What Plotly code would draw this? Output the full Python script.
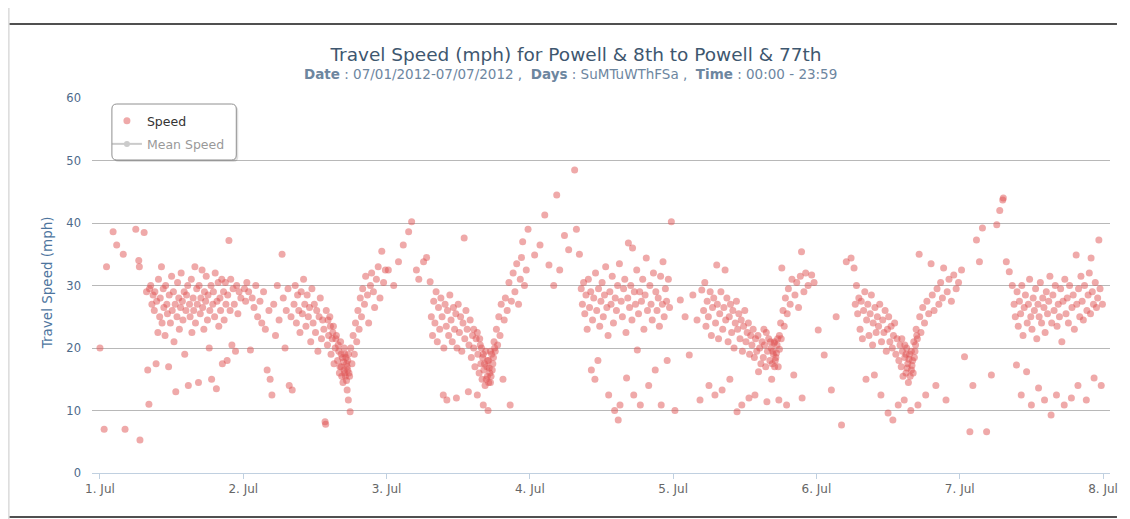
import pandas as pd
import plotly.graph_objects as go

# hours after midnight and speed (mph), one pair of lists per day
day1_hours = [0.0, 0.7, 1.1, 2.2, 2.8, 3.9, 4.2, 6.0, 6.5, 6.6, 6.7, 7.4, 7.8, 8.0, 8.2, 8.3, 8.5,
              8.7, 8.9, 9.1, 9.2, 9.4, 9.5, 9.7, 9.8, 10.0, 10.1, 10.3, 10.4, 10.6, 10.7, 10.9, 11.0,
              11.2, 11.3, 11.5, 11.6, 11.8, 12.0, 12.1, 12.3, 12.4, 12.6, 12.7, 12.9, 13.0, 13.2, 13.3,
              13.5, 13.6, 13.8, 13.9, 14.1, 14.2, 14.4, 14.5, 14.7, 14.8, 15.0, 15.1, 15.3, 15.4, 15.6,
              15.7, 15.9, 16.0, 16.2, 16.3, 16.5, 16.6, 16.8, 16.9, 17.1, 17.2, 17.4, 17.5, 17.7, 17.8,
              18.0, 18.1, 18.3, 18.4, 18.6, 18.7, 18.9, 19.0, 19.2, 19.3, 19.5, 19.6, 19.8, 19.9, 20.1,
              20.2, 20.4, 20.5, 20.7, 20.8, 21.0, 21.1, 21.3, 21.4, 21.6, 21.8, 21.9, 22.1, 22.3, 22.5,
              22.7, 22.9, 23.1, 23.3, 23.6]
day1_speed = [20, 7, 33, 38.6, 36.5, 35, 7, 39, 34, 33, 5.3, 38.5, 29, 16.5, 11, 29.5, 30,
              27, 28.5, 26, 29, 17.5, 27.5, 22.5, 31, 25, 28, 33, 24, 29.5, 26.5, 22, 30,
              27, 25.5, 17, 28.5, 24, 31.5, 26, 29, 21, 27, 13, 25, 30.5, 28, 23,
              26.5, 32, 27.5, 24.5, 29, 19, 26, 28.5, 30, 14, 27, 25, 31, 22.5, 28,
              26, 33, 24, 29.5, 27, 14.5, 30, 25.5, 28, 32.5, 26.5, 23, 29, 27.5, 31.5,
              24.5, 28.5, 20, 26, 30, 15, 27, 29, 25, 32, 13.5, 27.5, 30.5, 23.5, 28,
              26, 31, 17.5, 29, 24.5, 30.5, 27, 18, 28.5, 37.2, 26, 31, 20.5, 29.5, 27,
              19.5, 30, 25.5, 29, 28]

day2_hours = [0.2, 0.4, 0.6, 0.9, 1.2, 1.5, 1.8, 2.1, 2.4, 2.8, 3.1, 3.4, 3.7, 4.0, 4.3, 4.5, 4.8,
              5.1, 5.4, 5.7, 6.0, 6.5, 6.7, 7.0, 7.2, 7.5, 7.7, 8.0, 8.2, 8.5, 8.7, 8.9, 9.1, 9.3,
              9.5, 9.7, 9.9, 10.1, 10.3, 10.5, 10.7, 10.9, 11.1, 11.3, 11.5, 11.7, 11.9, 12.1, 12.3,
              12.5, 12.7, 12.9, 13.1, 13.3, 13.5, 13.7, 13.8, 13.9, 14.1, 14.3, 14.5, 14.7, 14.9, 15.1,
              15.2, 15.4, 15.6, 15.8, 16.0, 16.1, 16.3, 16.4, 16.6, 16.7, 16.9, 17.0, 17.1, 17.3, 17.4,
              17.5, 17.6, 17.7, 17.9, 18.0, 18.2, 18.4, 18.6, 18.8, 19.0, 19.2, 19.4, 19.6, 19.8, 20.0,
              20.3, 20.5, 20.8, 21.0, 21.3, 21.5, 21.8, 22.0, 22.3, 22.6, 22.9, 23.2, 23.5, 23.8,
              16.2, 16.5, 16.8, 17.0, 17.2, 17.3, 17.5, 17.6, 17.8, 16.9, 17.4, 16.4, 15.9, 15.5,
              15.0, 14.6, 14.2]
day2_speed = [29.5, 27.5, 30.5, 29, 19.7, 28, 26.5, 30, 25, 27.5, 24, 29, 23, 16.5, 26, 15, 12.5,
              27, 22, 30, 24.5, 35, 28, 20, 26, 29.5, 14, 25, 13.3, 27, 30, 24, 28.5, 26,
              22.5, 29, 25.5, 31, 27, 23.5, 28.5, 25, 26.5, 21, 29.5, 24, 27, 22.5, 26,
              19.5, 25, 28, 21.5, 24.5, 23, 8.2, 7.8, 26, 20.5, 22, 25, 19, 21.5, 23.5,
              17.5, 20, 22, 18, 19.5, 16, 21, 17, 18.5, 14.5, 16.5, 19, 15.5, 17.5, 13.3,
              18, 11.7, 16, 9.8, 20, 17.5, 22, 19, 24, 21, 26, 23, 28, 25, 29.5,
              27, 31.5, 28.5, 24, 30, 32, 29, 26.5, 31, 33, 28, 35.5, 30.5, 32.5,
              17, 15.5, 17.8, 16, 18.5, 14.8, 16.5, 19, 15.5, 20, 17, 19, 20.5, 21.5,
              22.5, 23.5, 24.5]

day3_hours = [0.3, 1.2, 2.0, 2.8, 3.7, 4.2, 5.0, 5.4, 6.2, 6.7, 7.3, 7.5, 7.7, 7.9, 8.1, 8.3, 8.5,
              8.7, 8.9, 9.1, 9.3, 9.5, 9.6, 9.8, 10.0, 10.1, 10.2, 10.4, 10.6, 10.8, 11.0, 11.2, 11.4,
              11.6, 11.7, 11.8, 12.0, 12.2, 12.4, 12.6, 12.8, 13.0, 13.1, 13.3, 13.5, 13.7, 13.8, 14.0,
              14.2, 14.4, 14.6, 14.8, 15.0, 15.2, 15.3, 15.5, 15.7, 15.8, 16.0, 16.1, 16.2, 16.3, 16.5,
              16.6, 16.8, 16.9, 17.0, 17.1, 17.3, 17.4, 17.6, 17.8, 18.0, 18.2, 18.4, 18.6, 18.8, 19.0,
              19.2, 19.5, 19.7, 19.9, 20.2, 20.5, 20.7, 20.9, 21.2, 21.5, 21.8, 22.1, 22.4, 22.6, 22.8,
              23.1, 23.4, 23.7,
              16.4, 16.7, 16.9, 17.1, 17.2, 17.4, 17.5, 17.7, 16.2, 15.9, 15.6, 15.2, 17.9, 18.1, 14.6]
day3_speed = [32.5, 30, 33.8, 36.5, 38.6, 40.2, 32.5, 31, 33.8, 34.5, 30.6, 25, 22, 27.5, 24, 29, 21,
              26.5, 23, 28, 25, 12.5, 20, 27, 23.5, 11.7, 26, 22, 28.5, 24.5, 21, 26.5, 23,
              25.5, 12, 20, 27, 22.5, 25, 19.5, 24, 37.6, 21.5, 26, 23, 13, 20.5, 24.5,
              18.5, 22, 20, 17, 21.5, 12.5, 19, 16, 20.5, 17.5, 15, 18.5, 10.9, 16.5, 14,
              19.5, 17, 15.5, 10, 18, 16, 14.5, 19, 17.5, 21, 19.5, 23, 20.5, 25, 22,
              27, 15, 24.5, 28, 26, 30.5, 10.9, 27.5, 32, 29, 33.5, 27, 31, 34.5, 37,
              30, 32.5, 39,
              17.5, 15, 18, 14.5, 16.8, 19.5, 15.5, 16.5, 19, 20, 21.5, 22.5, 18.5, 20, 23]

day4_hours = [0.8, 1.7, 2.5, 3.2, 4.0, 4.5, 5.0, 5.8, 6.5, 7.5, 7.8, 8.3, 8.6, 8.8, 9.0, 9.2, 9.4,
              9.6, 9.8, 10.0, 10.2, 10.3, 10.5, 10.7, 10.9, 11.0, 11.2, 11.4, 11.5, 11.7, 11.9, 12.1,
              12.3, 12.5, 12.7, 12.9, 13.1, 13.2, 13.4, 13.6, 13.8, 14.0, 14.2, 14.3, 14.5, 14.7, 14.8,
              15.0, 15.1, 15.3, 15.5, 15.7, 15.9, 16.1, 16.2, 16.4, 16.5, 16.7, 16.9, 17.1, 17.2, 17.4,
              17.5, 17.7, 17.9, 18.0, 18.2, 18.4, 18.5, 18.7, 18.9, 19.1, 19.3, 19.5, 19.7, 19.9, 20.1,
              20.3, 20.5, 20.7, 21.0, 21.1, 21.3, 21.5, 21.7, 21.9, 22.0, 22.2, 22.3, 22.5, 22.7, 22.9,
              23.0, 23.2, 23.4, 23.7]
day4_speed = [34.9, 36.5, 41.3, 33.3, 30, 44.5, 32.5, 38, 35.7, 48.5, 39, 35, 29.5, 27, 30.5, 25.5, 28.5,
              23, 31, 26.5, 29, 16.5, 24.5, 28, 15, 32, 26, 18, 29.5, 23.5, 27.5, 30.5,
              25, 28.5, 33, 26.5, 22, 12.5, 29, 27, 31.5, 24, 10, 28, 26, 30, 8.5,
              33.5, 10.9, 27.5, 25, 29.5, 31, 22.5, 15.2, 28, 36.8, 26.5, 30, 24.5, 36, 12.5,
              29, 27, 32.5, 19.7, 25.5, 29, 10.9, 27.5, 31, 23, 28.5, 34.4, 26, 14, 30,
              27, 24.5, 32, 16.5, 29, 26, 28, 23.5, 31.5, 10.9, 27, 33.8, 25, 29.5, 27.5,
              18, 31, 26.5, 40.2]

day5_hours = [0.3, 1.2, 2.0, 2.7, 3.3, 4.0, 4.5, 4.8, 5.1, 5.3, 5.5, 5.7, 5.9, 6.0, 6.2, 6.4, 6.6,
              6.8, 7.0, 7.1, 7.3, 7.4, 7.6, 7.8, 8.0, 8.2, 8.3, 8.5, 8.7, 8.8, 9.0, 9.2, 9.4,
              9.5, 9.6, 9.8, 10.0, 10.2, 10.4, 10.6, 10.7, 10.8, 11.0, 11.2, 11.4, 11.5, 11.6, 11.8,
              12.0, 12.2, 12.4, 12.6, 12.7, 12.8, 13.0, 13.2, 13.4, 13.6, 13.7, 13.8, 14.0, 14.2, 14.3,
              14.5, 14.7, 14.9, 15.1, 15.3, 15.5, 15.7, 15.8, 16.0, 16.2, 16.4, 16.5, 16.6, 16.8, 17.0,
              17.2, 17.4, 17.6, 17.7, 17.8, 18.0, 18.2, 18.4, 18.6, 18.8, 19.0, 19.1, 19.3, 19.6, 19.9,
              20.2, 20.4, 20.7, 21.0, 21.3, 21.5, 21.6, 21.9, 22.2, 22.6, 23.2, 23.6,
              16.7, 16.9, 17.1, 17.3, 17.5, 17.0, 16.3, 17.8, 18.1, 15.6, 15.2]
day5_speed = [10, 27.7, 25, 18.9, 28.5, 24.5, 11.7, 29.3, 26, 30.5, 23.5, 27.5, 25, 14, 29, 22, 26.5,
              28, 12.5, 24, 33.3, 27, 21.5, 25.5, 29, 13.3, 23, 26.5, 32.5, 24.5, 28, 21, 25,
              15, 27, 22.5, 26, 20, 24, 27.5, 9.8, 23, 25.5, 21.5, 24.5, 10.9, 19.5, 23.5,
              26, 21, 22.5, 24, 12, 19, 22, 20.5, 23, 18.5, 12.5, 21.5, 19.5, 22, 16.2,
              20, 17.5, 21, 18.5, 20.5, 17, 11.4, 19.5, 21.5, 18, 20, 15, 17.5, 19, 21,
              18.5, 20.5, 17, 11.7, 22, 24, 32.8, 26, 23.5, 28, 10.9, 25.5, 29.5, 27, 31,
              15.7, 28.5, 30.5, 26.5, 31.5, 35.4, 12, 29, 32, 30, 31.7, 30.5,
              19.5, 20.8, 18, 19.2, 21.5, 17, 21, 19.8, 21.5, 22.5, 23]

day6_hours = [0.3, 1.3, 2.5, 3.3, 4.2, 5.0, 5.8, 6.3, 6.5, 6.7, 6.9, 7.1, 7.3, 7.5, 7.7, 7.9, 8.1,
              8.3, 8.4, 8.6, 8.8, 9.0, 9.2, 9.4, 9.5, 9.7, 9.8, 10.0, 10.2, 10.4, 10.6, 10.8, 10.9,
              11.1, 11.3, 11.5, 11.7, 11.9, 12.0, 12.1, 12.3, 12.5, 12.7, 12.8, 12.9, 13.1, 13.3, 13.5,
              13.7, 13.8, 14.0, 14.2, 14.4, 14.5, 14.7, 14.8, 15.0, 15.1, 15.3, 15.4, 15.6, 15.8, 15.9,
              16.1, 16.3, 16.5, 16.7, 16.9, 17.0, 17.2, 17.3, 17.5, 17.8, 18.1, 18.3, 18.5, 18.8, 19.2,
              19.4, 19.7, 20.0, 20.2, 20.5, 20.8, 21.1, 21.3, 21.7, 21.9, 22.2, 22.6, 23.0, 23.4, 23.8,
              15.2, 15.5, 15.7, 15.9, 16.0, 16.2, 16.4, 15.0, 14.8, 16.6, 16.8, 14.3]
day6_speed = [22.9, 18.9, 13.3, 25, 7.7, 33.8, 34.4, 32.8, 27, 30, 25.5, 28, 23, 27.5, 21.5, 26, 29,
              15, 24.5, 27, 22, 25.5, 28.5, 20.5, 24, 15.7, 26.5, 22.5, 25, 23.5, 27, 12.5, 21,
              24.5, 22.5, 26, 19.5, 23, 9.6, 25, 21, 23.5, 20, 8.5, 22, 24, 19, 21.5,
              10.9, 18, 20.5, 17, 19.5, 15.5, 11.7, 18.5, 16, 20, 17.5, 14.5, 19, 10, 16.5,
              18, 21, 19.5, 23, 21.5, 10.9, 35, 25, 22.5, 26.5, 24, 12.5, 27.5, 25.5, 33.5,
              28.5, 26, 14, 29.5, 27, 30.5, 28, 32.8, 11.7, 29, 31, 27.5, 31.7, 29.5, 30.5,
              16.8, 18.2, 15.5, 19.5, 17.2, 16, 18.5, 19, 20.5, 20.5, 22, 21.5]

day7_hours = [0.3, 0.8, 1.7, 2.2, 2.8, 3.3, 3.8, 4.5, 5.3, 6.2, 6.7, 7.2, 7.3, 7.8, 8.3, 8.8, 9.1,
              9.3, 9.5, 9.6, 9.8, 10.0, 10.2, 10.3, 10.4, 10.6, 10.8, 11.0, 11.2, 11.3, 11.5, 11.7,
              11.9, 12.0, 12.1, 12.3, 12.5, 12.7, 12.9, 13.1, 13.2, 13.3, 13.5, 13.7, 13.9, 14.1, 14.2,
              14.3, 14.5, 14.7, 14.9, 15.1, 15.3, 15.4, 15.6, 15.8, 16.0, 16.2, 16.3, 16.5, 16.7, 16.9,
              17.1, 17.3, 17.5, 17.6, 17.8, 18.0, 18.2, 18.4, 18.7, 18.8, 19.0, 19.2, 19.5, 19.6, 19.8,
              19.9, 20.1, 20.3, 20.5, 20.7, 20.9, 21.2, 21.3, 21.5, 21.7, 21.9, 22.0, 22.2, 22.4, 22.5,
              22.7, 22.9, 23.1, 23.3, 23.5, 23.7, 23.9]
day7_speed = [32.5, 18.6, 6.6, 14, 37.3, 33.8, 39.2, 6.6, 15.7, 39.7, 42, 43.7, 44, 33.8, 32.2, 30, 27,
              25, 17.3, 29, 23.5, 27.5, 25.5, 12.5, 30, 22, 26.5, 28.5, 16.2, 24, 27, 31,
              25, 10.9, 23, 28, 26, 29.5, 21.5, 27, 13.6, 25, 30.5, 24, 28, 26.5, 11.7,
              22.5, 29, 25.5, 27.5, 31.5, 9.3, 24, 28.5, 26, 30, 12.5, 23.5, 27, 25, 29.5,
              21, 27.5, 10.9, 31, 25.5, 28, 24, 30, 12, 26.5, 28.5, 23, 34.9, 27, 14,
              29.5, 25, 31.5, 27.5, 24.5, 30, 11.7, 26, 28.5, 32, 25.5, 34.4, 29, 27, 15.2,
              30.5, 26.5, 28, 37.3, 29.5, 14, 27]

days = ["2012-07-01", "2012-07-02", "2012-07-03", "2012-07-04",
        "2012-07-05", "2012-07-06", "2012-07-07"]
all_hours = [day1_hours, day2_hours, day3_hours, day4_hours, day5_hours, day6_hours, day7_hours]
all_speed = [day1_speed, day2_speed, day3_speed, day4_speed, day5_speed, day6_speed, day7_speed]

times, speeds, mean_t, mean_v = [], [], [], []
for d, h, s in zip(days, all_hours, all_speed):
    ts = pd.Timestamp(d) + pd.to_timedelta(h, unit="h")
    times.extend(ts)
    speeds.extend(s)
    mean_t.append(pd.Timestamp(d) + pd.Timedelta(hours=12))
    mean_v.append(sum(s) / len(s))

# the page puts the figure 8px in from the window's top left corner,
# so everything below is given in window pixels and shifted by OFF
OFF = 8
W, H = 1130 - OFF, 519 - OFF
L, R, T, B = 92, 1115, 98, 473  # plot area in window pixels


def px(x):
    return (x - L) / (R - L)


def py(y):
    return (B - y) / (B - T)


fig = go.Figure()
fig.add_trace(go.Scatter(
    x=times, y=speeds, mode="markers", name="Speed",
    marker=dict(size=7, color="rgba(223,83,83,0.5)", line=dict(width=0)),
    legendgroup="a",
))
fig.add_trace(go.Scatter(
    x=mean_t, y=mean_v, mode="lines+markers", name="Mean Speed",
    line=dict(color="#999999", width=2), marker=dict(size=6, color="#999999"),
    visible="legendonly", legendgroup="b",
))


# rounded legend box with soft shadow
def rounded(x0, y0, x1, y1, r):
    return (f"M {px(x0 + r)},{py(y0)} L {px(x1 - r)},{py(y0)} "
            f"Q {px(x1)},{py(y0)} {px(x1)},{py(y0 + r)} L {px(x1)},{py(y1 - r)} "
            f"Q {px(x1)},{py(y1)} {px(x1 - r)},{py(y1)} L {px(x0 + r)},{py(y1)} "
            f"Q {px(x0)},{py(y1)} {px(x0)},{py(y1 - r)} L {px(x0)},{py(y0 + r)} "
            f"Q {px(x0)},{py(y0)} {px(x0 + r)},{py(y0)} Z")


shapes = [
    dict(type="path", xref="paper", yref="paper", path=rounded(114, 106, 239, 162, 5),
         fillcolor="rgba(0,0,0,0.12)", line=dict(width=0), layer="above"),
    dict(type="path", xref="paper", yref="paper", path=rounded(112, 104, 237, 160, 5),
         fillcolor="white", line=dict(color="#909090", width=1), layer="above"),
    # page rules around the chart
    dict(type="line", xref="paper", yref="paper", x0=px(9), x1=px(1122), y0=py(24), y1=py(24),
         line=dict(color="#505050", width=2)),
    dict(type="line", xref="paper", yref="paper", x0=px(9), x1=px(1122), y0=py(517), y1=py(517),
         line=dict(color="#505050", width=2)),
    dict(type="line", xref="paper", yref="paper", x0=px(8.5), x1=px(8.5), y0=py(8), y1=py(519),
         line=dict(color="#c8c8c8", width=1)),
]

font = "DejaVu Sans, Verdana, sans-serif"

fig.update_layout(
    width=W, height=H,
    margin=dict(l=L - OFF, r=1130 - R, t=T - OFF, b=519 - B),
    paper_bgcolor="white", plot_bgcolor="white",
    font=dict(family=font, size=11, color="#666666"),
    title=dict(text="Travel Speed (mph) for Powell & 8th to Powell & 77th",
               x=(576 - OFF) / W, xanchor="center", y=1 - (55 - OFF) / H, yanchor="middle",
               font=dict(size=18.5, color="#3E576F")),
    annotations=[
        dict(text="<b>Date</b> : 07/01/2012-07/07/2012 ,  <b>Days</b> : SuMTuWThFSa ,  "
                  "<b>Time</b> : 00:00 - 23:59",
             xref="paper", yref="paper", x=px(573), y=py(74), xanchor="center", yanchor="middle",
             showarrow=False, font=dict(size=13.5, color="#6D869F")),
        dict(text="Travel Speed (mph)", xref="paper", yref="paper", x=px(47), y=py(283),
             xanchor="center", yanchor="middle", textangle=-90, showarrow=False,
             font=dict(size=13.5, color="#4d759e")),
    ],
    shapes=shapes,
    showlegend=True,
    legend=dict(x=px(107), y=py(106), xanchor="left", yanchor="top",
                bgcolor="rgba(0,0,0,0)", borderwidth=0, tracegroupgap=4,
                font=dict(size=12.5, color="#333333")),
    xaxis=dict(
        type="date",
        range=["2012-06-30 22:40", "2012-07-08 01:10"],
        tickvals=days + ["2012-07-08"],
        tickformat="%-d. %b",
        showgrid=False, zeroline=False,
        showline=True, linecolor="#C0D0E0", linewidth=1,
        ticks="outside", ticklen=5, tickcolor="#C0D0E0",
        tickfont=dict(size=12, color="#666666"),
    ),
    yaxis=dict(
        range=[0, 60], dtick=10, showgrid=True, gridcolor="#b8b8b8", gridwidth=1,
        zeroline=False, showline=False, ticks="", ticklabelstandoff=10,
        tickfont=dict(size=11.5, color="#4d6a8a"),
    ),
)

fig.write_html("out.html")
